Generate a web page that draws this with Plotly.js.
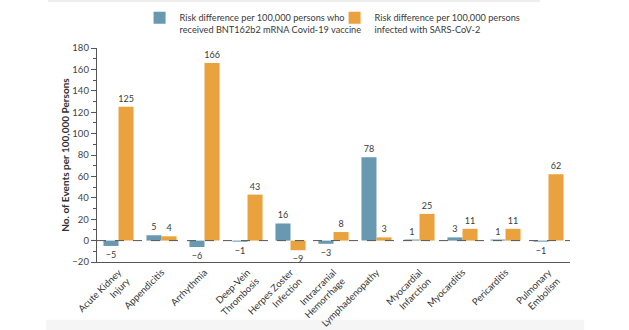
<!DOCTYPE html>
<html>
<head>
<meta charset="utf-8">
<script src="https://cdn.plot.ly/plotly-3.0.1.min.js"></script>
<style>html,body{margin:0;padding:0;background:#fff;}#chart{width:629px;height:330px;}</style>
</head>
<body>
<div id="chart"></div>
<script>
var categories = [
  "Acute Kidney<br>Injury", "Appendicitis", "Arrhythmia", "Deep-Vein<br>Thrombosis",
  "Herpes Zoster<br>Infection", "Intracranial<br>Hemorrhage", "Lymphadenopathy",
  "Myocardial<br>Infarction", "Myocarditis", "Pericarditis", "Pulmonary<br>Embolism"
];
var vaccineValues = [-5, 5, -6, -1, 16, -3, 78, 1, 3, 1, -1];
var infectionValues = [125, 4, 166, 43, -9, 8, 3, 25, 11, 11, 62];
var vaccineName = "Risk difference per 100,000 persons who<br>received BNT162b2 mRNA Covid-19 vaccine";
var infectionName = "Risk difference per 100,000 persons<br>infected with SARS-CoV-2";
var yTitle = "No. of Events per 100,000 Persons";

function labels(vals) {
  return vals.map(function (v) { return String(v).replace('-', '\u2212'); });
}

var FONT = "Lato, Open Sans, sans-serif";
var TXT = "#3a3a3a";

var traces = [
  {
    type: 'bar', name: vaccineName, x: categories, y: vaccineValues,
    marker: {color: '#6899b0'},
    text: labels(vaccineValues), textposition: 'outside', constraintext: 'none',
    textfont: {family: FONT, size: 9, color: TXT}, cliponaxis: false, hoverinfo: 'none'
  },
  {
    type: 'bar', name: infectionName, x: categories, y: infectionValues,
    marker: {color: '#e9a23d'},
    text: labels(infectionValues), textposition: 'outside', constraintext: 'none',
    textfont: {family: FONT, size: 9, color: TXT}, cliponaxis: false, hoverinfo: 'none'
  }
];

var layout = {
  width: 629, height: 330,
  margin: {l: 97, r: 59, t: 48, b: 68, autoexpand: false},
  paper_bgcolor: '#ffffff', plot_bgcolor: '#ffffff',
  font: {family: FONT, size: 9.5, color: TXT},
  barmode: 'group', bargap: 0.30, bargroupgap: 0,
  showlegend: true,
  legend: {
    orientation: 'h', x: 0.090, y: 1.200, xanchor: 'left', yanchor: 'top',
    font: {family: FONT, size: 9.2, color: TXT},
    entrywidth: 150, entrywidthmode: 'pixels', itemwidth: 30, valign: 'top',
    bgcolor: 'rgba(0,0,0,0)', traceorder: 'normal'
  },
  xaxis: {
    type: 'category', range: [-0.5, 10.5], automargin: false,
    showline: true, linecolor: '#555', linewidth: 1.2, ticks: '',
    tickangle: -45, tickfont: {family: FONT, size: 9.5, color: '#333'},
    showgrid: false, zeroline: false, fixedrange: true
  },
  yaxis: {
    range: [-20, 180], dtick: 20, tick0: 0, automargin: false,
    showline: true, linecolor: '#555', linewidth: 1.2,
    ticks: 'outside', ticklen: 5, tickwidth: 1, tickcolor: '#555',
    minor: {dtick: 10, ticks: 'outside', ticklen: 3, tickcolor: '#555', showgrid: false},
    tickfont: {family: FONT, size: 9.5, color: '#444'},
    showgrid: false, zeroline: false, fixedrange: true,
    title: {text: yTitle, font: {family: FONT, size: 10, color: '#333', weight: 'bold'}, standoff: 0}
  },
  shapes: [
    {type: 'line', xref: 'paper', yref: 'y', x0: 0, x1: 1, y0: 0, y1: 0,
     line: {color: '#555', width: 1, dash: 'dash'}, layer: 'above'},
    {type: 'rect', xref: 'paper', yref: 'paper', x0: -0.108, x1: 1.03, y0: -0.27, y1: -0.32,
     fillcolor: '#f5f5f5', line: {width: 0}, layer: 'below'},
    {type: 'line', xref: 'paper', yref: 'paper', x0: -0.104, x1: 0.937, y0: 1.22, y1: 1.22,
     line: {color: '#eeeeee', width: 2}}
  ]
};

Plotly.newPlot('chart', traces, layout, {staticPlot: true, displayModeBar: false});
</script>
</body>
</html>
